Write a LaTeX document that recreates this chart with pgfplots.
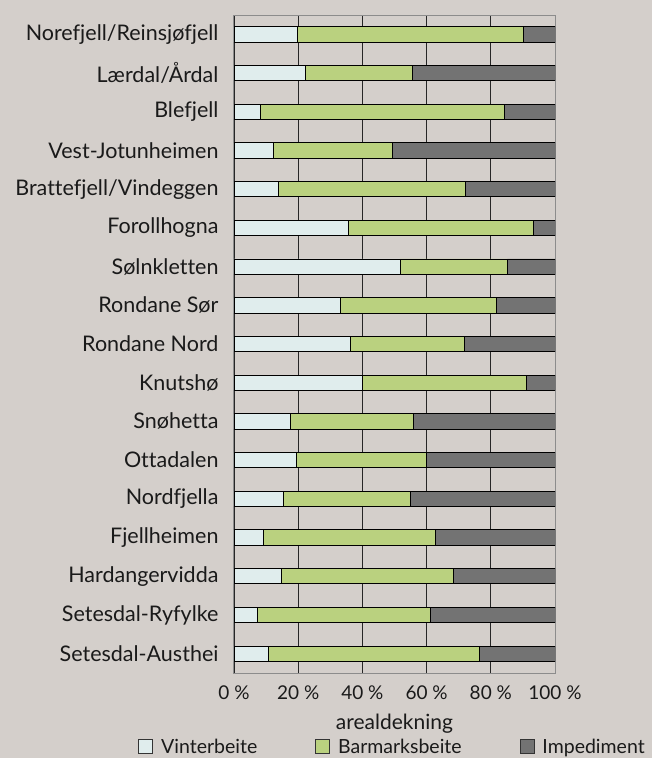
\documentclass[border=0pt]{standalone}
\usepackage{fontspec}
\setmainfont{Lato}[Ligatures=NoCommon]
\usepackage{pgfplots}
\pgfplotsset{compat=1.18}
\definecolor{bg}{HTML}{D4CFCB}
\definecolor{vint}{HTML}{E0EDED}
\definecolor{barm}{HTML}{BAD17F}
\definecolor{imp}{HTML}{737373}
\definecolor{txt}{HTML}{1A1A1A}
\begin{document}
\begin{tikzpicture}
\fill[bg] (0pt,0pt) rectangle (652pt,758pt);
\begin{axis}[
  at={(234pt,85pt)}, anchor=south west,
  width=321pt, height=658pt, scale only axis,
  xbar stacked, bar width=15.3pt,
  xmin=0, xmax=100, ymin=-0.5, ymax=16.5,
  y dir=reverse,
  ytick={0,...,16},
  yticklabels={Norefjell/Reinsjøfjell, Lærdal/Årdal, Blefjell, Vest-Jotunheimen\hspace{4pt}, Brattefjell/Vindeggen, Forollhogna, Sølnkletten, Rondane Sør, Rondane Nord, Knutshø, Snøhetta, Ottadalen\hspace{7pt}, Nordfjella, Fjellheimen, Hardangervidda, Setesdal-Ryfylke, Setesdal-Austhei},
  xtick={0,20,40,60,80,100},
  xticklabels={0 \%, 20 \%, 40 \%, 60 \%, 80 \%, 100 \%},
  major tick length=0pt,
  xmajorgrids, ymajorgrids=false,
  grid style={black!85, line width=0.8pt},
  axis line style={black!45, line width=1pt},
  text=txt,
  yticklabel style={font=\fontsize{21.5}{24}\selectfont, xshift=-12pt},
  xticklabel style={font=\fontsize{19}{22}\selectfont, yshift=-9pt},
  xlabel={arealdekning},
  xlabel style={font=\fontsize{21}{24}\selectfont, yshift=-8pt},
  legend style={at={(0.494,-0.112)}, anchor=center, draw=none, fill=none,
    legend columns=3, font=\fontsize{19.5}{22}\selectfont,
    /tikz/every odd column/.append style={column sep=6pt},
    /tikz/every even column/.append style={column sep=56pt}},
  legend image code/.code={\draw[#1,draw=black!80,line width=0.8pt] (0pt,-7pt) rectangle (14pt,7pt);},
]
\addplot[fill=vint, draw=black, line width=0.8pt] coordinates {
(19.9,0) (22.2,1) (8.2,2) (12.3,3) (13.7,4) (35.7,5) (51.7,6) (33.2,7) (36.2,8) (40.0,9) (17.5,10) (19.4,11) (15.4,12) (9.1,13) (14.8,14) (7.2,15) (10.8,16)};
\addplot[fill=barm, draw=black, line width=0.8pt] coordinates {
(70.1,0) (33.5,1) (76.0,2) (37.0,3) (58.5,4) (57.6,5) (33.5,6) (48.6,7) (35.6,8) (51.0,9) (38.5,10) (40.5,11) (39.4,12) (53.5,13) (53.6,14) (54.0,15) (65.8,16)};
\addplot[fill=imp, draw=black, line width=0.8pt] coordinates {
(10.0,0) (44.3,1) (15.8,2) (50.7,3) (27.8,4) (6.7,5) (14.8,6) (18.2,7) (28.2,8) (9.0,9) (44.0,10) (40.1,11) (45.2,12) (37.4,13) (31.6,14) (38.8,15) (23.4,16)};
\legend{Vinterbeite, Barmarksbeite, Impediment}
\end{axis}
\pgfresetboundingbox
\path[use as bounding box] (0pt,0pt) rectangle (652pt,758pt);
\end{tikzpicture}
\end{document}
